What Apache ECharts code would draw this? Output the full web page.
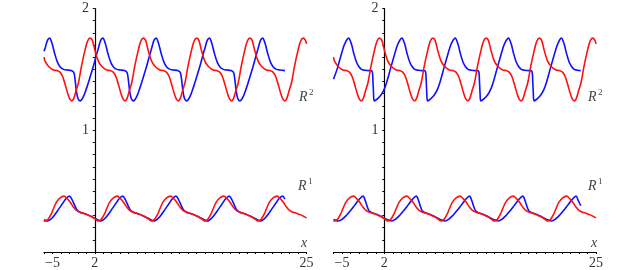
<!DOCTYPE html>
<html>
<head>
<meta charset="utf-8">
<script src="https://cdn.jsdelivr.net/npm/echarts@6/dist/echarts.min.js"></script>
<style>html,body{margin:0;padding:0;background:#fff}#c{width:640px;height:270px}</style>
</head>
<body>
<div id="c"></div>
<script>
// x range and tick labels
const xRange = [-6, 25];
const yRange = [0, 2];
const xTickValues = [-5, 0, 25];
const xTickLabels = ['\u22125', '2', '25'];
const yTickValues = [1, 2];
const yTickLabels = ['1', '2'];

// R^2, red (both panels)
const red2 = [
[-6.0,1.60],[-5.89,1.57],[-5.48,1.526],[-4.89,1.495],[-4.49,1.49],[-4.09,1.475],[-3.79,1.44],[-3.51,1.377],[-3.19,1.30],[-2.94,1.255],[-2.72,1.241],[-2.49,1.26],[-2.19,1.33],[-1.93,1.39],[-1.59,1.52],[-1.15,1.66],[-0.84,1.735],[-0.55,1.757],
[-0.30,1.74],[0.02,1.655],[0.40,1.57],[0.81,1.526],[1.40,1.495],[1.80,1.49],[2.20,1.475],[2.50,1.44],[2.78,1.377],[3.10,1.30],[3.35,1.255],[3.57,1.241],[3.80,1.26],[4.10,1.33],[4.36,1.39],[4.70,1.52],[5.14,1.66],[5.45,1.735],[5.74,1.757],
[5.99,1.74],[6.31,1.655],[6.69,1.57],[7.10,1.526],[7.69,1.495],[8.09,1.49],[8.49,1.475],[8.79,1.44],[9.07,1.377],[9.39,1.30],[9.64,1.255],[9.86,1.241],[10.09,1.26],[10.39,1.33],[10.65,1.39],[10.99,1.52],[11.43,1.66],[11.74,1.735],[12.03,1.757],
[12.28,1.74],[12.60,1.655],[12.98,1.57],[13.39,1.526],[13.98,1.495],[14.38,1.49],[14.78,1.475],[15.08,1.44],[15.36,1.377],[15.68,1.30],[15.93,1.255],[16.15,1.241],[16.38,1.26],[16.68,1.33],[16.94,1.39],[17.28,1.52],[17.72,1.66],[18.03,1.735],[18.32,1.757],
[18.57,1.74],[18.89,1.655],[19.27,1.57],[19.68,1.526],[20.27,1.495],[20.67,1.49],[21.07,1.475],[21.37,1.44],[21.65,1.377],[21.97,1.30],[22.22,1.255],[22.44,1.241],[22.67,1.26],[22.97,1.33],[23.23,1.39],[23.57,1.52],[24.01,1.66],[24.32,1.735],[24.61,1.757],
[24.86,1.74],[25.0,1.71]
];

// R^2, blue, left panel
const blue2Left = [
[-6.0,1.65],[-5.86,1.676],[-5.58,1.74],[-5.34,1.757],
[-5.04,1.71],[-4.74,1.63],[-4.39,1.555],[-4.09,1.52],[-3.69,1.50],[-3.29,1.495],[-2.79,1.49],[-2.49,1.475],[-2.34,1.42],[-2.19,1.33],[-1.99,1.26],[-1.74,1.241],[-1.39,1.27],[-0.95,1.35],[-0.59,1.43],[-0.17,1.526],[0.16,1.61],[0.43,1.676],[0.71,1.74],[0.95,1.757],
[1.25,1.71],[1.55,1.63],[1.90,1.555],[2.20,1.52],[2.60,1.50],[3.00,1.495],[3.50,1.49],[3.80,1.475],[3.95,1.42],[4.10,1.33],[4.30,1.26],[4.55,1.241],[4.90,1.27],[5.34,1.35],[5.70,1.43],[6.12,1.526],[6.45,1.61],[6.72,1.676],[7.00,1.74],[7.24,1.757],
[7.54,1.71],[7.84,1.63],[8.19,1.555],[8.49,1.52],[8.89,1.50],[9.29,1.495],[9.79,1.49],[10.09,1.475],[10.24,1.42],[10.39,1.33],[10.59,1.26],[10.84,1.241],[11.19,1.27],[11.63,1.35],[11.99,1.43],[12.41,1.526],[12.74,1.61],[13.01,1.676],[13.29,1.74],[13.53,1.757],
[13.83,1.71],[14.13,1.63],[14.48,1.555],[14.78,1.52],[15.18,1.50],[15.58,1.495],[16.08,1.49],[16.38,1.475],[16.53,1.42],[16.68,1.33],[16.88,1.26],[17.13,1.241],[17.48,1.27],[17.92,1.35],[18.28,1.43],[18.70,1.526],[19.03,1.61],[19.30,1.676],[19.58,1.74],[19.82,1.757],
[20.12,1.71],[20.42,1.63],[20.77,1.555],[21.07,1.52],[21.47,1.50],[21.87,1.495],[22.45,1.49]
];

// R^2, blue, right panel
const blue2Right = [
[-6.0,1.42],[-5.58,1.50],[-5.20,1.594],[-4.88,1.67],[-4.61,1.72],[-4.22,1.757],
[-3.89,1.71],[-3.62,1.635],[-3.29,1.56],[-3.03,1.526],[-2.69,1.50],[-2.29,1.493],[-1.79,1.49],[-1.44,1.485],[-1.34,1.40],[-1.27,1.30],[-1.19,1.241],[-0.79,1.26],[-0.39,1.29],[0.01,1.34],[0.31,1.40],[0.71,1.50],[1.09,1.594],[1.41,1.67],[1.68,1.72],[2.07,1.757],
[2.40,1.71],[2.67,1.635],[3.00,1.56],[3.26,1.526],[3.60,1.50],[4.00,1.493],[4.50,1.49],[4.85,1.485],[4.95,1.40],[5.02,1.30],[5.10,1.241],[5.50,1.26],[5.90,1.29],[6.30,1.34],[6.60,1.40],[7.00,1.50],[7.38,1.594],[7.70,1.67],[7.97,1.72],[8.36,1.757],
[8.69,1.71],[8.96,1.635],[9.29,1.56],[9.55,1.526],[9.89,1.50],[10.29,1.493],[10.79,1.49],[11.14,1.485],[11.24,1.40],[11.31,1.30],[11.39,1.241],[11.79,1.26],[12.19,1.29],[12.59,1.34],[12.89,1.40],[13.29,1.50],[13.67,1.594],[13.99,1.67],[14.26,1.72],[14.65,1.757],
[14.98,1.71],[15.25,1.635],[15.58,1.56],[15.84,1.526],[16.18,1.50],[16.58,1.493],[17.08,1.49],[17.43,1.485],[17.53,1.40],[17.60,1.30],[17.68,1.241],[18.08,1.26],[18.48,1.29],[18.88,1.34],[19.18,1.40],[19.58,1.50],[19.96,1.594],[20.28,1.67],[20.55,1.72],[20.90,1.757],
[21.23,1.71],[21.50,1.635],[21.83,1.56],[22.09,1.526],[22.43,1.50],[22.83,1.493],[23.20,1.49]
];

// R^1, red (both panels)
const red1 = [
[-6.0,0.26],[-5.89,0.255],[-5.53,0.268],[-5.13,0.315],[-4.89,0.355],[-4.53,0.41],[-4.10,0.445],[-3.63,0.459],[-3.29,0.44],[-2.92,0.41],[-2.53,0.37],[-2.13,0.34],[-1.74,0.327],[-1.34,0.318],[-0.83,0.305],[-0.36,0.29],[0.07,0.27],
[0.40,0.255],[0.76,0.268],[1.16,0.315],[1.40,0.355],[1.76,0.41],[2.19,0.445],[2.66,0.459],[3.00,0.44],[3.37,0.41],[3.76,0.37],[4.16,0.34],[4.55,0.327],[4.95,0.318],[5.46,0.305],[5.93,0.29],[6.36,0.27],
[6.69,0.255],[7.05,0.268],[7.45,0.315],[7.69,0.355],[8.05,0.41],[8.48,0.445],[8.95,0.459],[9.29,0.44],[9.66,0.41],[10.05,0.37],[10.45,0.34],[10.84,0.327],[11.24,0.318],[11.75,0.305],[12.22,0.29],[12.65,0.27],
[12.98,0.255],[13.34,0.268],[13.74,0.315],[13.98,0.355],[14.34,0.41],[14.77,0.445],[15.24,0.459],[15.58,0.44],[15.95,0.41],[16.34,0.37],[16.74,0.34],[17.13,0.327],[17.53,0.318],[18.04,0.305],[18.51,0.29],[18.94,0.27],
[19.27,0.255],[19.63,0.268],[20.03,0.315],[20.27,0.355],[20.63,0.41],[21.06,0.445],[21.53,0.459],[21.87,0.44],[22.24,0.41],[22.63,0.37],[23.03,0.34],[23.42,0.327],[23.82,0.318],[24.33,0.305],[25.0,0.28]
];

// R^1, blue, left panel
const blue1Left = [
[-6.0,0.265],[-5.59,0.255],[-5.19,0.27],[-4.79,0.30],[-4.29,0.35],[-3.79,0.40],[-3.39,0.44],[-3.00,0.459],[-2.69,0.43],[-2.39,0.385],[-2.09,0.345],[-1.74,0.327],[-1.34,0.318],[-0.83,0.305],[-0.36,0.29],[0.07,0.275],[0.40,0.262],
[0.70,0.255],[1.10,0.27],[1.50,0.30],[2.00,0.35],[2.50,0.40],[2.90,0.44],[3.29,0.459],[3.60,0.43],[3.90,0.385],[4.20,0.345],[4.55,0.327],[4.95,0.318],[5.46,0.305],[5.93,0.29],[6.36,0.275],[6.69,0.262],
[6.99,0.255],[7.39,0.27],[7.79,0.30],[8.29,0.35],[8.79,0.40],[9.19,0.44],[9.58,0.459],[9.89,0.43],[10.19,0.385],[10.49,0.345],[10.84,0.327],[11.24,0.318],[11.75,0.305],[12.22,0.29],[12.65,0.275],[12.98,0.262],
[13.28,0.255],[13.68,0.27],[14.08,0.30],[14.58,0.35],[15.08,0.40],[15.48,0.44],[15.87,0.459],[16.18,0.43],[16.48,0.385],[16.78,0.345],[17.13,0.327],[17.53,0.318],[18.04,0.305],[18.51,0.29],[18.94,0.275],[19.27,0.262],
[19.57,0.255],[19.97,0.27],[20.37,0.30],[20.87,0.35],[21.37,0.40],[21.77,0.44],[22.16,0.459],[22.45,0.435]
];

// R^1, blue, right panel
const blue1Right = [
[-6.0,0.268],[-5.79,0.262],[-5.39,0.255],[-4.99,0.268],[-4.49,0.30],[-3.99,0.34],[-3.49,0.385],[-2.99,0.43],[-2.52,0.459],[-2.24,0.42],[-1.86,0.345],[-1.54,0.325],[-1.09,0.315],[-0.69,0.303],[-0.29,0.29],[0.11,0.275],[0.51,0.262],
[0.90,0.255],[1.30,0.268],[1.80,0.30],[2.30,0.34],[2.80,0.385],[3.30,0.43],[3.77,0.459],[4.05,0.42],[4.43,0.345],[4.75,0.325],[5.20,0.315],[5.60,0.303],[6.00,0.29],[6.40,0.275],[6.80,0.262],
[7.19,0.255],[7.59,0.268],[8.09,0.30],[8.59,0.34],[9.09,0.385],[9.59,0.43],[10.06,0.459],[10.34,0.42],[10.72,0.345],[11.04,0.325],[11.49,0.315],[11.89,0.303],[12.29,0.29],[12.69,0.275],[13.09,0.262],
[13.48,0.255],[13.88,0.268],[14.38,0.30],[14.88,0.34],[15.38,0.385],[15.88,0.43],[16.35,0.459],[16.63,0.42],[17.01,0.345],[17.33,0.325],[17.78,0.315],[18.18,0.303],[18.58,0.29],[18.98,0.275],[19.38,0.262],
[19.77,0.255],[20.17,0.268],[20.67,0.30],[21.17,0.34],[21.67,0.385],[22.17,0.43],[22.64,0.459],[22.92,0.42],[23.20,0.38]
];

const RED = '#ff1010', BLUE = '#1010ff';
const serif = '"Liberation Serif", "DejaVu Serif", serif';

function xAxisCfg(idx) {
  return {
    type: 'value', gridIndex: idx, min: xRange[0], max: xRange[1], interval: 1,
    axisLine: { show: true, onZero: true, lineStyle: { color: '#000', width: 1.2 } },
    axisTick: { show: true, length: 2, lineStyle: { color: '#000', width: 1 } },
    axisLabel: {
      show: true, margin: 4, fontFamily: serif, fontSize: 14, color: '#333',
      customValues: xTickValues,
      formatter: v => { const i = xTickValues.indexOf(v); return i >= 0 ? xTickLabels[i] : ''; }
    },
    splitLine: { show: false }
  };
}
function yAxisCfg(idx, labelMargin) {
  return {
    type: 'value', gridIndex: idx, min: yRange[0], max: yRange[1], interval: 0.1,
    axisLine: { show: true, onZero: true, lineStyle: { color: '#000', width: 1.2 } },
    axisTick: { show: true, length: 2, lineStyle: { color: '#000', width: 1 } },
    axisLabel: {
      show: true, margin: labelMargin, fontFamily: serif, fontSize: 14, color: '#333',
      customValues: yTickValues,
      formatter: v => { const i = yTickValues.findIndex(t => Math.abs(t - v) < 1e-9); return i >= 0 ? yTickLabels[i] : ''; }
    },
    splitLine: { show: false }
  };
}
function line(data, color, idx) {
  return {
    type: 'line', data: data, xAxisIndex: idx, yAxisIndex: idx,
    showSymbol: false, smooth: 0.35, silent: true, animation: false,
    lineStyle: { color: color, width: 1.6 }, z: color === RED ? 3 : 2
  };
}

const labelColor = '#444';
function txt(x, y, s, size, italic) {
  return { type: 'text', x: x, y: y, style: { text: s, fontFamily: serif, fontSize: size, fontStyle: italic ? 'italic' : 'normal', fill: labelColor } };
}

const chart = echarts.init(document.getElementById('c'), null, { renderer: 'canvas' });
chart.setOption({
  animation: false,
  backgroundColor: '#fff',
  grid: [
    { left: 44, width: 262.5, top: 8.5, height: 245.5 },
    { left: 333.5, width: 262.5, top: 8.5, height: 245.5 }
  ],
  xAxis: [xAxisCfg(0), xAxisCfg(1)],
  yAxis: [yAxisCfg(0, -45), yAxisCfg(1, -45)],
  series: [
    line(blue2Left, BLUE, 0), line(red2, RED, 0), line(blue1Left, BLUE, 0), line(red1, RED, 0),
    line(blue2Right, BLUE, 1), line(red2, RED, 1), line(blue1Right, BLUE, 1), line(red1, RED, 1)
  ],
  graphic: [
    txt(299, 90, 'R', 14, true), txt(309, 88, '2', 9, false),
    txt(298, 179, 'R', 14, true), txt(308, 177, '1', 9, false),
    txt(301, 236, 'x', 14, true),
    txt(588, 90, 'R', 14, true), txt(598, 88, '2', 9, false),
    txt(588, 179, 'R', 14, true), txt(598, 177, '1', 9, false),
    txt(591, 236, 'x', 14, true)
  ]
});
</script>
</body>
</html>
